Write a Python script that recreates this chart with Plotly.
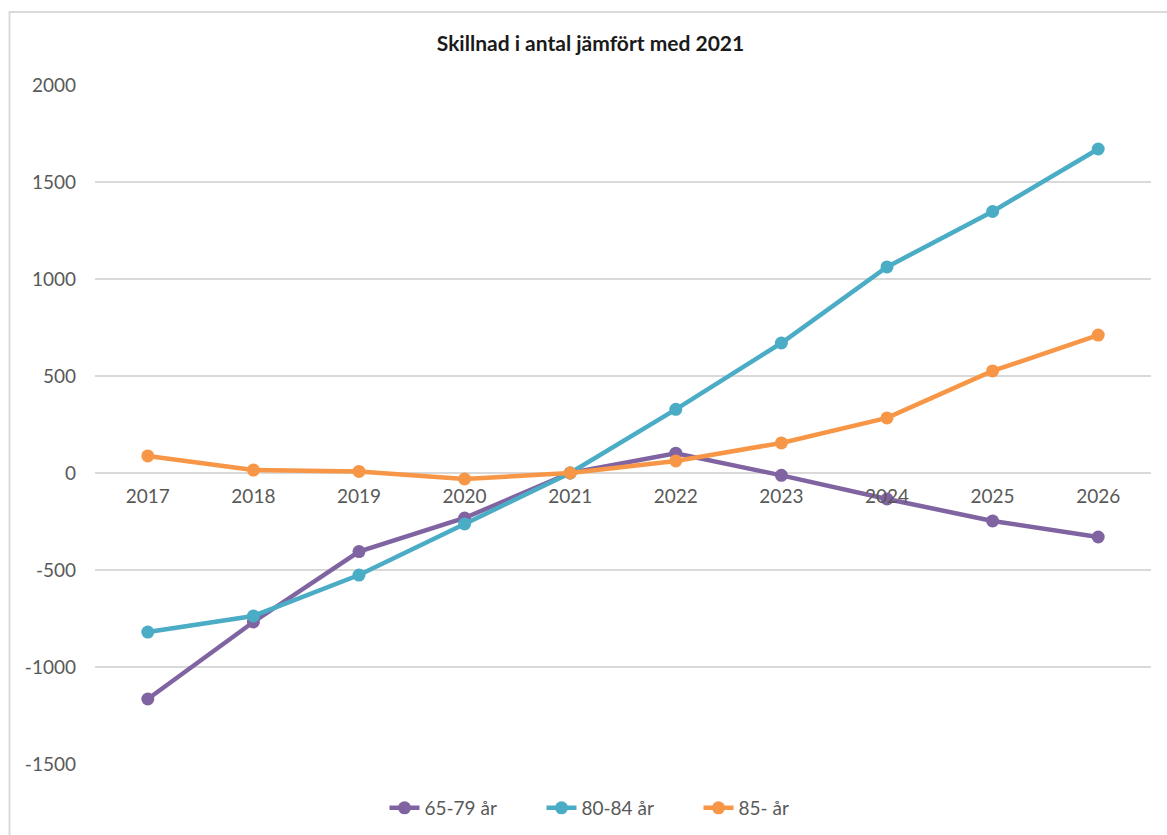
import plotly.graph_objects as go

years = ["2017", "2018", "2019", "2020", "2021", "2022", "2023", "2024", "2025", "2026"]
s65_79 = [-1165, -768, -405, -232, 0, 102, -12, -134, -247, -330]
s80_84 = [-820, -737, -526, -263, 0, 328, 670, 1062, 1348, 1670]
s85 = [88, 15, 8, -31, 0, 62, 155, 284, 526, 711]
names = ["65-79 år", "80-84 år", "85- år"]
colors = ["#8064A2", "#4BACC6", "#F79646"]
yticks = [-1500, -1000, -500, 0, 500, 1000, 1500, 2000]
yticktext = ["-1500", "-1000", "-500", "0", "500", "1000", "1500", "2000"]

FONT = "Lato"
fig = go.Figure()
for name, vals, col in zip(names, [s65_79, s80_84, s85], colors):
    fig.add_trace(go.Scatter(
        x=years, y=vals, name=name, mode="lines+markers",
        line=dict(color=col, width=4.5),
        marker=dict(color=col, size=13),
    ))

W, H = 1167, 835
L, R, T, B = 95, 16, 85, 71
pw, ph = W - L - R, H - T - B

fig.update_layout(
    width=W, height=H,
    margin=dict(l=L, r=R, t=T, b=B, autoexpand=False),
    paper_bgcolor="white", plot_bgcolor="white",
    font=dict(family=FONT, color="#595959", size=19),
    title=dict(text="<b>Skillnad i antal jämfört med 2021</b>", x=0.506, xanchor="center",
               y=1 - 44 / H, yanchor="middle",
               font=dict(family=FONT, size=21, color="#1a1a1a")),
    showlegend=True,
    legend=dict(orientation="h", x=(620 - L) / pw, xanchor="center", y=(764 - 808) / ph, yanchor="middle",
                font=dict(family=FONT, size=19, color="#595959"),
                entrywidth=112, entrywidthmode="pixels",
                tracegroupgap=0),
    xaxis=dict(type="category", range=[-0.5, 9.5], showgrid=False, showline=False,
               ticks="", anchor="free", position=1500 / 3500, ticklabelstandoff=10,
               tickfont=dict(size=19, color="#595959"), zeroline=False),
    yaxis=dict(range=[-1500, 2000], tickvals=yticks, ticktext=yticktext, showgrid=True,
               gridcolor="#D9D9D9", gridwidth=1.5, zeroline=True, zerolinecolor="#D9D9D9",
               zerolinewidth=1.5, showline=False, ticks="", ticklabelstandoff=18,
               tickfont=dict(size=19, color="#595959")),
    shapes=[dict(type="rect", xref="paper", yref="paper",
                 x0=(9.5 - L) / pw, x1=(W + 20 - L) / pw,
                 y0=(764 - (H + 20)) / ph, y1=(764 - 12) / ph,
                 line=dict(color="#D9D9D9", width=2), fillcolor="rgba(0,0,0,0)", layer="below")],
)

fig.write_html("out.html")
